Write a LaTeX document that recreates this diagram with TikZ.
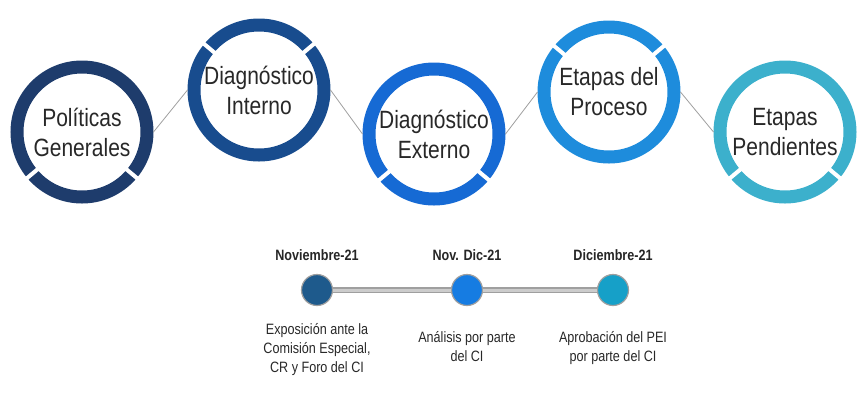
\documentclass[tikz,border=0pt]{standalone}
\usepackage{fontspec}
\setmainfont[FakeStretch=0.84]{Liberation Sans}
\usepackage{tikz}
\usetikzlibrary{positioning}

\definecolor{ringA}{RGB}{30,60,108}
\definecolor{ringB}{RGB}{24,76,142}
\definecolor{ringC}{RGB}{22,106,212}
\definecolor{ringD}{RGB}{30,140,220}
\definecolor{ringE}{RGB}{60,176,204}
\definecolor{dotA}{RGB}{30,90,140}
\definecolor{dotB}{RGB}{22,124,226}
\definecolor{dotC}{RGB}{22,160,200}
\definecolor{txt}{RGB}{40,40,40}

\tikzset{
  stage/.style={circle, draw=#1, line width=13pt, minimum size=130pt, inner sep=0pt,
    align=center, text=txt, font=\fontsize{25}{30}\selectfont},
  gap/.style={draw=white, line width=4pt},
  link/.style={draw=gray!75, line width=0.8pt},
  bar/.style={draw=gray!75, line width=1.2pt, double=gray!40, double distance=3pt},
  milestone/.style={circle, fill=#1, draw=gray!75, line width=1.2pt, minimum size=31pt, inner sep=0pt},
  date/.style={font=\fontsize{15}{18}\selectfont\bfseries, text=black!85},
  note/.style={font=\fontsize{15}{19}\selectfont, text=txt, align=center}
}

\begin{document}
\begin{tikzpicture}[x=1pt, y=-1pt]
    \useasboundingbox (0,0) rectangle (860,392);

    % Draw stages
    \node[stage=ringA] (pol) at (82,132)  {Políticas\\Generales};
    \node[stage=ringB] (int) at (259,90)  {Diagnóstico\\Interno};
    \node[stage=ringC] (ext) at (434,134) {Diagnóstico\\Externo};
    \node[stage=ringD] (eta) at (609,92)  {Etapas del\\Proceso};
    \node[stage=ringE] (pen) at (785,132) {Etapas\\Pendientes};

    % Cuts in the rings (y points down here)
    \foreach \n in {pol, ext, pen} {
      \foreach \a in {140, 40}
        \draw[gap] (\n.center) ++(\a:55) -- ++(\a:20);
    }
    \foreach \n in {int, eta} {
      \foreach \a in {-140, -40}
        \draw[gap] (\n.center) ++(\a:55) -- ++(\a:20);
    }

    % Links between stages
    \draw[link] (pol.east) -- (int.west);
    \draw[link] (int.east) -- (ext.west);
    \draw[link] (ext.east) -- (eta.west);
    \draw[link] (eta.east) -- (pen.west);

    % Timeline
    \node[milestone=dotA] (m1) at (317,290) {};
    \node[milestone=dotB] (m2) at (467,290) {};
    \node[milestone=dotC] (m3) at (613,290) {};
    \draw[bar] (m1) -- (m2);
    \draw[bar] (m2) -- (m3);

    % Dates above, notes below
    \node[date, above=10pt of m1] (d1) {Noviembre-21};
    \node[date, above=10pt of m2] (d2) {Nov. Dic-21};
    \node[date, above=10pt of m3] (d3) {Diciembre-21};
    \node[note, below=14pt of m1] (n1) {Exposición ante la\\Comisión Especial,\\CR y Foro del CI};
    \node[note, below=22pt of m2] (n2) {Análisis por parte\\del CI};
    \node[note, below=22pt of m3] (n3) {Aprobación del PEI\\por parte del CI};

  \end{tikzpicture}
\end{document}
